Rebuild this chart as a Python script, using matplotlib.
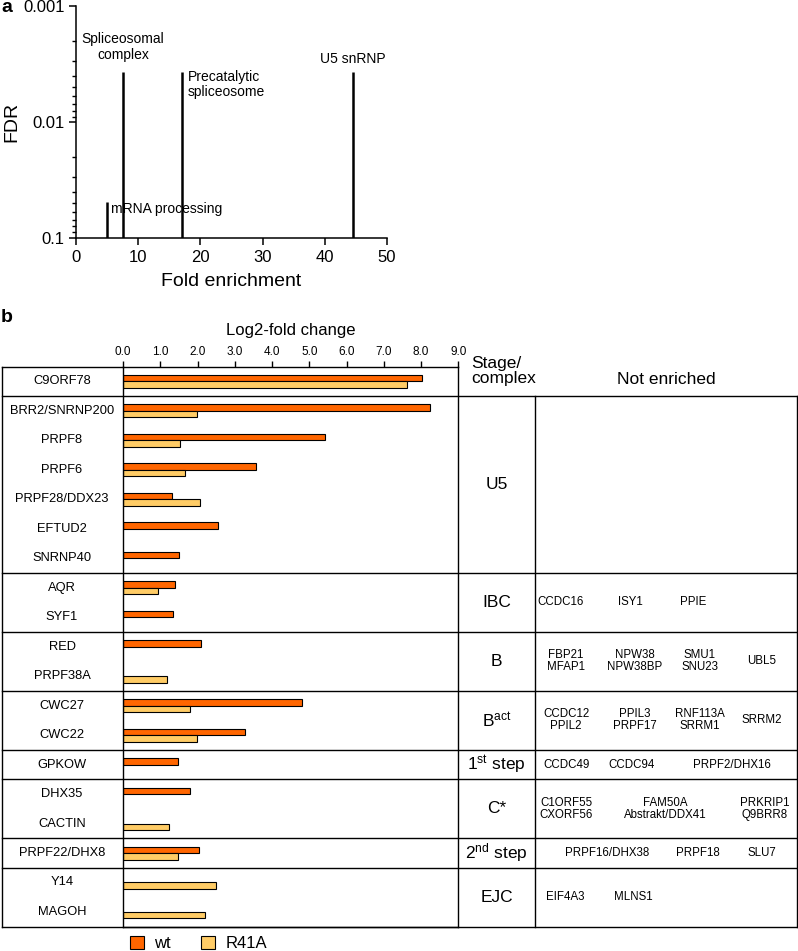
import numpy as np
import matplotlib
matplotlib.use('Agg')
import matplotlib.pyplot as plt
from matplotlib.patches import Patch
from matplotlib.transforms import blended_transform_factory

plt.rcParams['font.family'] = ['Liberation Sans', 'DejaVu Sans']
plt.rcParams['mathtext.fontset'] = 'custom'
plt.rcParams['mathtext.rm'] = 'Liberation Sans'
plt.rcParams['mathtext.it'] = 'Liberation Sans:italic'
plt.rcParams['mathtext.bf'] = 'Liberation Sans:bold'

# Panel a: GO enrichment
go_terms = ['mRNA processing', 'Spliceosomal\ncomplex', 'Precatalytic\nspliceosome', 'U5 snRNP']
go_fold = [4.9, 7.6, 17.1, 44.6]
go_fdr = [0.049, 0.0037, 0.0037, 0.0037]

# Panel b: log2-fold change
genes = ['C9ORF78', 'BRR2/SNRNP200', 'PRPF8', 'PRPF6', 'PRPF28/DDX23', 'EFTUD2', 'SNRNP40',
         'AQR', 'SYF1', 'RED', 'PRPF38A', 'CWC27', 'CWC22', 'GPKOW', 'DHX35', 'CACTIN',
         'PRPF22/DHX8', 'Y14', 'MAGOH']
wt = [8.02, 8.23, 5.43, 3.58, 1.31, 2.56, 1.49, 1.40, 1.34, 2.10, np.nan, 4.80, 3.27, 1.47,
      1.81, np.nan, 2.03, np.nan, np.nan]
r41a = [7.63, 1.98, 1.54, 1.67, 2.08, np.nan, np.nan, 0.94, np.nan, np.nan, 1.19, 1.81, 1.98,
        np.nan, np.nan, 1.24, 1.48, 2.50, 2.21]
group_sizes = [1, 6, 2, 2, 2, 1, 2, 1, 2]
stages = ['', 'U5', 'IBC', 'B', r'B$^{\mathrm{act}}$', r'1$^{\mathrm{st}}$ step', 'C*',
          r'2$^{\mathrm{nd}}$ step', 'EJC']
not_enriched = [
    [],
    [],
    ['CCDC16', 'ISY1', 'PPIE'],
    ['FBP21\nMFAP1', 'NPW38\nNPW38BP', 'SMU1\nSNU23', 'UBL5'],
    ['CCDC12\nPPIL2', 'PPIL3\nPRPF17', 'RNF113A\nSRRM1', 'SRRM2'],
    ['CCDC49', 'CCDC94', 'PRPF2/DHX16'],
    ['C1ORF55\nCXORF56', 'FAM50A\nAbstrakt/DDX41', 'PRKRIP1\nQ9BRR8'],
    ['PRPF16/DHX38', 'PRPF18', 'SLU7'],
    ['EIF4A3', 'MLNS1'],
]
# horizontal layout (pixels) of the "not enriched" names
ne_xpos = [[], [], [561, 630, 693], [566, 635, 700, 762], [566, 635, 700, 762],
           [567, 632, 732], [566, 665, 765], [607, 698, 762], [565, 633]]

W, H = 798, 951
fx = lambda p: p / W
fy = lambda p: 1 - p / H

fig = plt.figure(figsize=(W / 100, H / 100), dpi=100)

# ---------------- panel a ----------------
axa = fig.add_axes([fx(76.3), fy(237.7), (386.7 - 76.3) / W, (237.7 - 6) / H])
axa.vlines(go_fold, 0.1, go_fdr, color='black', linewidth=1.8)
axa.set_yscale('log')
axa.set_ylim(0.1, 0.001)
axa.set_xlim(0, 50)
axa.set_yticks([0.001, 0.01, 0.1])
axa.set_yticklabels(['0.001', '0.01', '0.1'])
axa.set_xticks(np.arange(0, 51, 10))
for s in ['top', 'right']:
    axa.spines[s].set_visible(False)
for s in ['left', 'bottom']:
    axa.spines[s].set_linewidth(1.1)
axa.tick_params(which='major', labelsize=12, width=1.1, length=5)
axa.tick_params(which='minor', width=1.0, length=3)
axa.set_xlabel('Fold enrichment', fontsize=14, labelpad=6)
axa.set_ylabel('FDR', fontsize=14, labelpad=2)
axa.text(5.6, 0.0568, go_terms[0], fontsize=10, ha='left', va='center')
axa.text(7.5, 0.00226, go_terms[1], fontsize=10, ha='center', va='center', linespacing=1.1)
axa.text(17.9, 0.00477, go_terms[2], fontsize=10, ha='left', va='center', linespacing=1.1)
axa.text(44.6, 0.00288, go_terms[3], fontsize=10, ha='center', va='center')
fig.text(fx(1), fy(8), 'a', fontsize=14, fontweight='bold', va='center')

# ---------------- panel b ----------------
n = len(genes)
axb = fig.add_axes([fx(123), fy(926.7), (458.3 - 123) / W, (926.7 - 366.7) / H])
y = np.arange(n) + 0.5
h = 0.22
wt_a = np.array(wt)
r_a = np.array(r41a)
m1 = ~np.isnan(wt_a)
m2 = ~np.isnan(r_a)
axb.barh(y[m1] - h / 2, wt_a[m1], height=h, color='#FF6600', edgecolor='black', linewidth=0.8)
axb.barh(y[m2] + h / 2, r_a[m2], height=h, color='#FFCC66', edgecolor='black', linewidth=0.8)
axb.set_xlim(0, 9)
axb.set_ylim(n, 0)
axb.set_yticks([])
axb.xaxis.tick_top()
axb.xaxis.set_label_position('top')
axb.set_xticks(np.arange(0, 10, 1))
axb.set_xticklabels([f'{v:.1f}' for v in range(10)])
axb.tick_params(axis='x', labelsize=8.5, width=1.0, length=4, pad=2)
axb.set_xlabel('Log2-fold change', fontsize=12, labelpad=8)
for s in axb.spines.values():
    s.set_linewidth(1.0)

trans = blended_transform_factory(fig.transFigure, axb.transData)
lkw = dict(color='black', linewidth=1.0, transform=trans, clip_on=False)
x_left, x_stage, x_right = fx(2), fx(535), fx(797)
axb.plot([x_left, fx(123)], [0, 0], **lkw)
axb.plot([x_left, x_left], [0, n], **lkw)
axb.plot([x_left, x_right], [n, n], **lkw)
axb.plot([x_stage, x_stage], [group_sizes[0], n], **lkw)
axb.plot([x_right, x_right], [group_sizes[0], n], **lkw)

for i, g in enumerate(genes):
    axb.text(fx(62), y[i], g, fontsize=9.3, ha='center', va='center', transform=trans)

edges = np.concatenate([[0], np.cumsum(group_sizes)])
for k in range(len(group_sizes)):
    top, bot = edges[k], edges[k + 1]
    if k > 0:
        axb.plot([x_left, x_right], [top, top], **lkw)
    yc = (top + bot) / 2
    if stages[k]:
        axb.text(fx(496.5), yc, stages[k], fontsize=12.5, ha='center', va='center',
                 transform=trans)
    for name, xp in zip(not_enriched[k], ne_xpos[k]):
        axb.text(fx(xp), yc, name, fontsize=8.3, ha='center', va='center',
                 multialignment='center', linespacing=1.0, transform=trans)

fig.text(fx(471.5), fy(371), 'Stage/\ncomplex', fontsize=12.5, ha='left', va='center',
         linespacing=1.0)
fig.text(fx(666.7), fy(380), 'Not enriched', fontsize=12.5, ha='center', va='center')
fig.text(fx(1), fy(318), 'b', fontsize=14, fontweight='bold', va='center')

handles = [Patch(facecolor='#FF6600', edgecolor='black', linewidth=0.8),
           Patch(facecolor='#FFCC66', edgecolor='black', linewidth=0.8)]
fig.legend(handles, ['wt', 'R41A'], loc='center left', bbox_to_anchor=(fx(130), fy(943.5)),
           ncol=2, frameon=False, fontsize=12, handlelength=0.86, handleheight=0.86,
           handletextpad=0.6, columnspacing=1.8, borderpad=0, borderaxespad=0)

fig.savefig('out.png', dpi=100)
